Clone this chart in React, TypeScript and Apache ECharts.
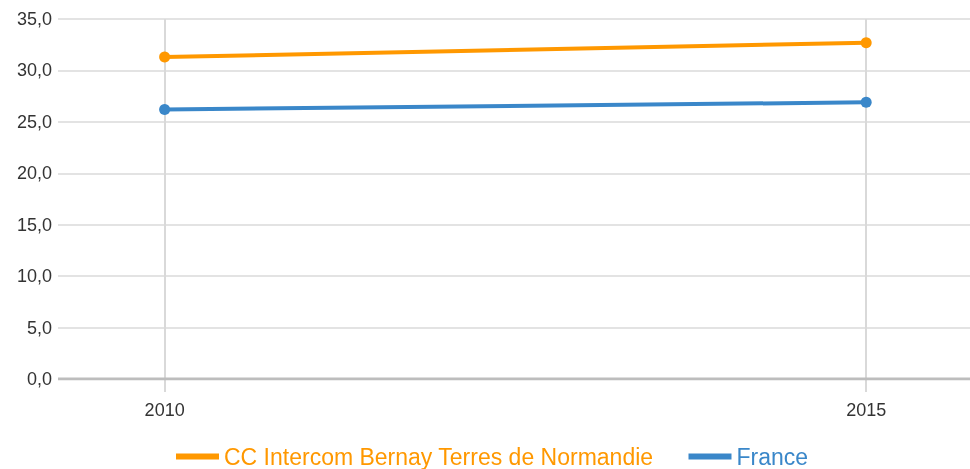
import React, { useEffect, useRef } from "react";
import * as echarts from "echarts";

const years = [2010, 2015];
const seriesNames = ["CC Intercom Bernay Terres de Normandie", "France"];
const ccValues = [31.3, 32.7];
const franceValues = [26.2, 26.9];
const colors = ["#ff9800", "#3a87c9"];
const yTicks = [0, 5, 10, 15, 20, 25, 30, 35];

export default function App() {
  const ref = useRef<HTMLDivElement>(null);
  useEffect(() => {
    if (!ref.current) return;
    const chart = echarts.init(ref.current, undefined, { renderer: "svg" });
    const mk = (vals: number[]) => years.map((y, i) => [y, vals[i]]);
    chart.setOption({
      animation: false,
      grid: { left: 58, right: 0, top: 19, bottom: 90, containLabel: false },
      xAxis: {
        type: "value",
        min: 2009.24,
        max: 2015.74,
        axisLine: { show: false },
        axisTick: {
          show: true,
          customValues: years,
          length: 13,
          lineStyle: { color: "#d9d9d9", width: 2 },
        },
        axisLabel: {
          customValues: years,
          formatter: (v: number) => String(v),
          color: "#333",
          fontFamily: "Arial, Liberation Sans, sans-serif",
          fontSize: 18,
          margin: 22,
        },
        splitLine: { show: true, lineStyle: { color: "#d9d9d9", width: 2 } },
      },
      yAxis: {
        type: "value",
        min: 0,
        max: 35,
        interval: 5,
        axisLine: { show: false },
        axisTick: { show: false },
        axisLabel: {
          customValues: yTicks,
          formatter: (v: number) => v.toFixed(1).replace(".", ","),
          color: "#333",
          fontFamily: "Arial, Liberation Sans, sans-serif",
          fontSize: 18,
          margin: 6,
        },
        splitLine: { show: true, lineStyle: { color: "#e3e3e3", width: 2 } },
      },
      legend: {
        top: 444,
        left: 176,
        padding: 0,
        itemWidth: 43,
        itemHeight: 6,
        itemGap: 35,
        icon: "rect",
        textStyle: {
          fontFamily: "Arial, Liberation Sans, sans-serif",
          fontSize: 23,
          lineHeight: 25,
        },
        data: seriesNames.map((n, i) => ({
          name: n,
          textStyle: { color: colors[i] },
        })),
      },
      series: [
        {
          name: seriesNames[0],
          type: "line",
          data: mk(ccValues),
          color: colors[0],
          lineStyle: { width: 4 },
          symbol: "circle",
          symbolSize: 11,
          z: 3,
        },
        {
          name: seriesNames[1],
          type: "line",
          data: mk(franceValues),
          color: colors[1],
          lineStyle: { width: 4 },
          symbol: "circle",
          symbolSize: 11,
          z: 3,
        },
        {
          type: "line",
          data: [
            [2009.24, 0],
            [2015.74, 0],
          ],
          symbol: "none",
          silent: true,
          lineStyle: { color: "#bdbdbd", width: 3 },
          z: 2,
          legendHoverLink: false,
        },
      ],
    });
    return () => chart.dispose();
  }, []);
  return (
    <div
      ref={ref}
      style={{ position: "fixed", left: 0, top: 0, width: 970, height: 469 }}
    />
  );
}
